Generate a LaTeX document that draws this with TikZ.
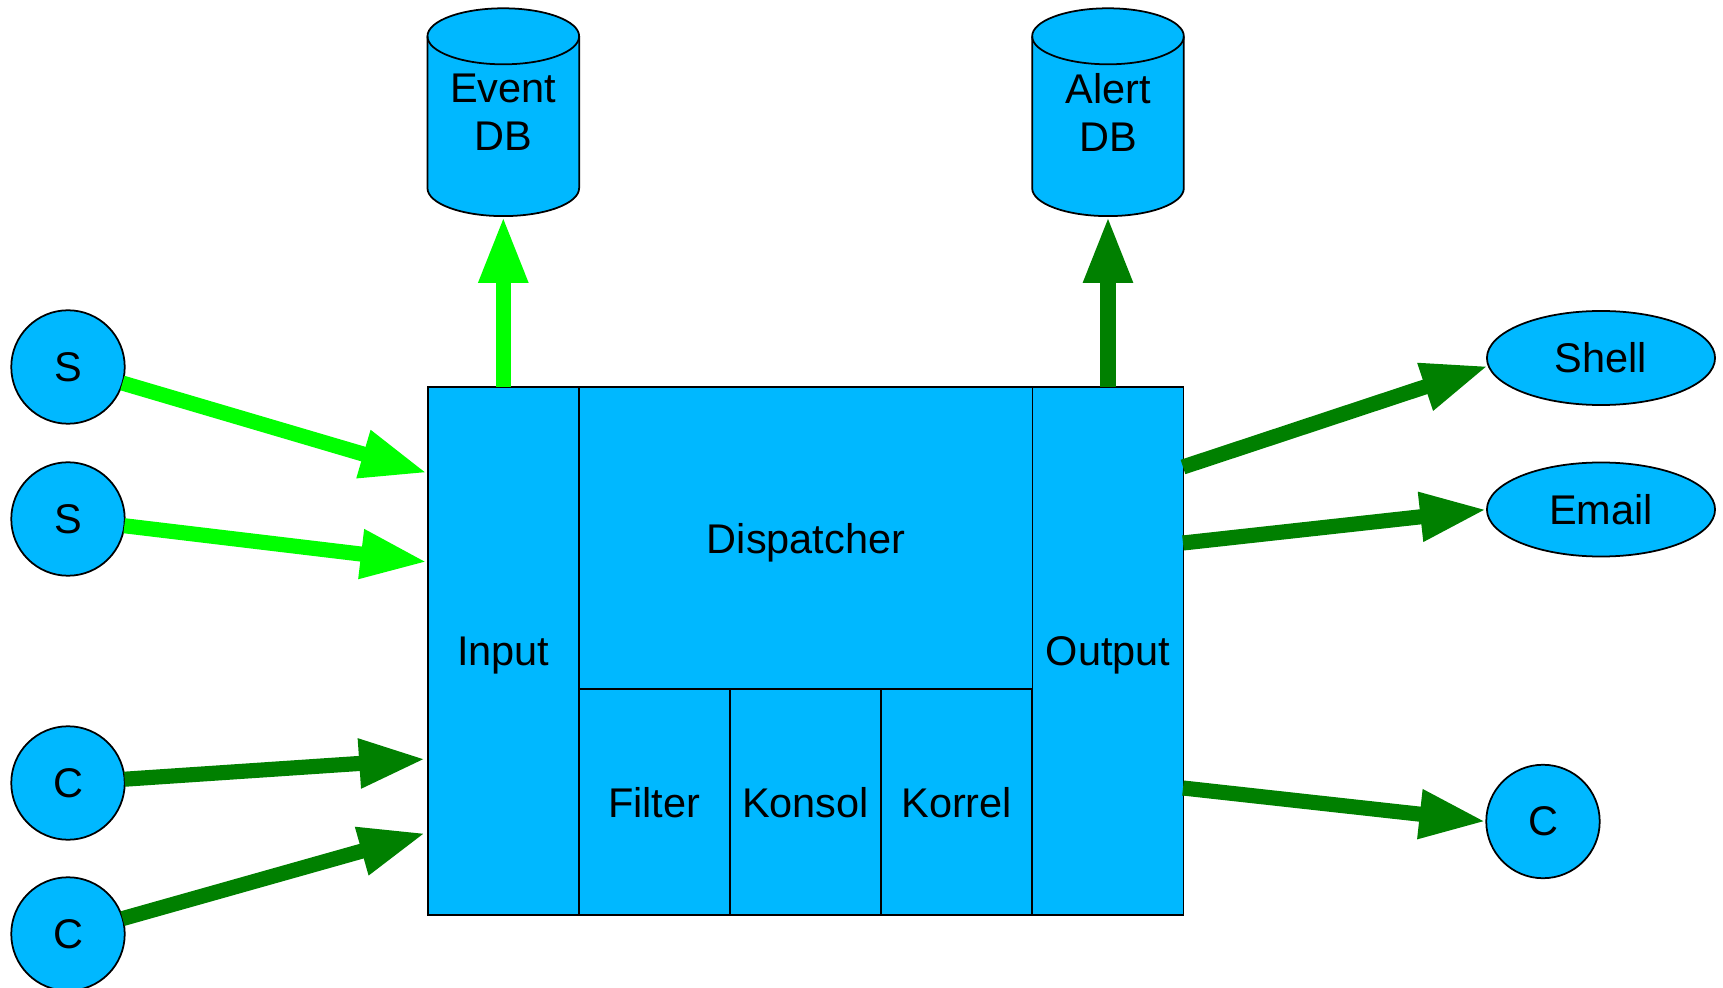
\documentclass[tikz,border=0pt]{standalone}
\usepackage{fontspec}
\setmainfont{Liberation Sans}
\usepackage{tikz}
\usetikzlibrary{arrows.meta,shapes.geometric,positioning,backgrounds}

\definecolor{boxblue}{RGB}{0,184,255}
\definecolor{litegreen}{RGB}{0,255,0}
\definecolor{darkgreen}{RGB}{0,128,0}

\begin{document}
\begin{tikzpicture}[
    x=0.01cm, y=-0.01cm,
    every node/.style={font=\fontsize{11.8}{13.6}\selectfont, line width=0.5pt, outer sep=0pt},
    blk/.style={draw, fill=boxblue, minimum width=1.51cm, text depth=0pt, align=center},
    src/.style={draw, circle, fill=boxblue, minimum size=1.134cm, inner sep=0pt},
    sink/.style={draw, ellipse, fill=boxblue, minimum width=2.28cm, minimum height=0.94cm},
    db/.style={minimum width=1.516cm, minimum height=2.077cm, inner sep=0pt, align=center},
    arr/.style={-{Triangle[length=19pt, width=13pt]}, line width=4.3pt}
]
\useasboundingbox (0,0) rectangle (1723,988);

% main block
\node[blk, minimum height=5.28cm] (inp) at (503.3,651) {Input};
\node[blk, minimum width=4.54cm, minimum height=3.02cm] (disp) at (806,538) {Dispatcher};
\node[blk, minimum height=2.26cm] (filt) at (654.3,802) {Filter};
\node[blk, minimum height=2.26cm] (kons) at (805.5,802) {Konsol};
\node[blk, minimum height=2.26cm] (korr) at (956.7,802) {Korrel};
\node[blk, minimum height=5.28cm] (outp) at (1108,651) {Output};

% databases
\node[db] (evdb) at (503.3,112.2) {Event\\DB};
\node[db] (aldb) at (1108,112.2) {Alert\\DB};
\begin{scope}[on background layer]
\foreach \d in {evdb,aldb} {
  \draw[fill=boxblue, line width=0.5pt] ([yshift=-0.28cm]\d.north west) -- ([yshift=0.28cm]\d.south west)
    arc[start angle=180, end angle=360, x radius=0.758cm, y radius=0.28cm]
    -- ([yshift=-0.28cm]\d.north east)
    arc[start angle=0, end angle=180, x radius=0.758cm, y radius=0.28cm] -- cycle;
  \draw[line width=0.5pt] ([yshift=-0.28cm]\d.north west)
    arc[start angle=180, end angle=360, x radius=0.758cm, y radius=0.28cm];
}
\end{scope}

% sources
\node[src] (s1) at (68,367) {S};
\node[src] (s2) at (68,519) {S};
\node[src] (c1) at (68,783) {C};
\node[src] (c2) at (68,934) {C};

% sinks
\node[sink] (shell) at (1601,358) {Shell};
\node[sink] (email) at (1601,509.5) {Email};
\node[src] (cout) at (1543,821.5) {C};

\coordinate (i1) at (427.5,473);
\coordinate (i2) at (427.5,562);
\coordinate (i3) at (426,759);
\coordinate (i4) at (426,833);
\coordinate (o1) at (1183,467);
\coordinate (o2) at (1183,543);
\coordinate (o3) at (1183,788);

\draw[arr, litegreen] (s1) -- (i1);
\draw[arr, litegreen] (s2) -- (i2);
\draw[arr, darkgreen] (c1) -- (i3);
\draw[arr, darkgreen] (c2) -- (i4);
\draw[arr, litegreen] (inp.north) -- (evdb.south);
\draw[arr, darkgreen] (outp.north) -- (aldb.south);
\draw[arr, darkgreen] (o1) -- (shell.184);
\draw[arr, darkgreen] (o2) -- (email.west);
\draw[arr, darkgreen] (o3) -- (cout.west);
\end{tikzpicture}
\end{document}
